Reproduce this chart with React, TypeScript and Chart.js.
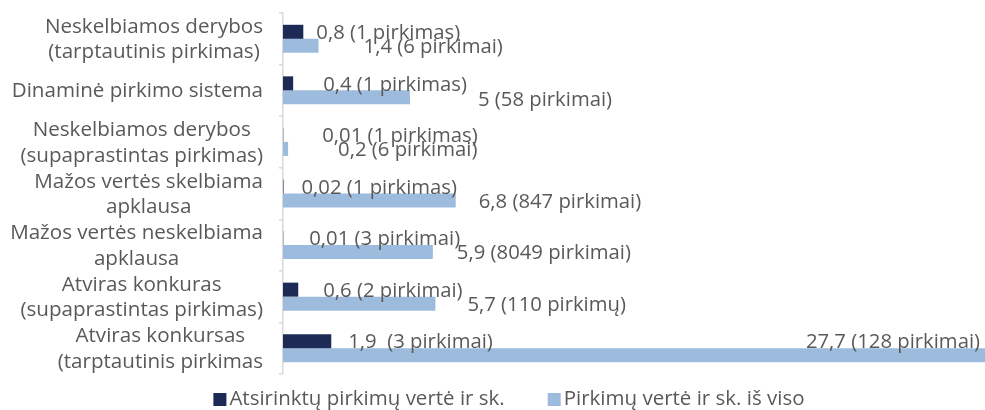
import React, { useEffect, useRef } from "react";
import { Chart, registerables } from "chart.js";

Chart.register(...registerables);

const categories: string[][] = [
  ["Neskelbiamos derybos", "(tarptautinis pirkimas)"],
  ["Dinaminė pirkimo sistema"],
  ["Neskelbiamos derybos", "(supaprastintas pirkimas)"],
  ["Mažos vertės skelbiama", "apklausa"],
  ["Mažos vertės neskelbiama", "apklausa"],
  ["Atviras konkuras", "(supaprastintas pirkimas)"],
  ["Atviras konkursas", "(tarptautinis pirkimas"],
];

const seriesNames = ["Atsirinktų pirkimų vertė ir sk.", "Pirkimų vertė ir sk. iš viso"];

const selectedValues = [0.8, 0.4, 0.01, 0.02, 0.01, 0.6, 1.9];
const totalValues = [1.4, 5, 0.2, 6.8, 5.9, 6.0, 27.7];

const selectedLabels = [
  "0,8 (1 pirkimas)",
  "0,4 (1 pirkimas)",
  "0,01 (1 pirkimas)",
  "0,02 (1 pirkimas)",
  "0,01 (3 pirkimai)",
  "0,6 (2 pirkimai)",
  "1,9  (3 pirkimai)",
];
const totalLabels = [
  "1,4 (6 pirkimai)",
  "5 (58 pirkimai)",
  "0,2 (6 pirkimai)",
  "6,8 (847 pirkimai)",
  "5,9 (8049 pirkimai)",
  "5,7 (110 pirkimų)",
  "27,7 (128 pirkimai)",
];

// label placement nudges (px)
const selectedLabelDx = [13, 30, 39, 18, 26, 25, 17];
const totalLabelDx = [45, 68, 50, 23, 24, 32, -5];
const totalLabelDy = [0, 1, 0, 0, 0, 0, -14];
const totalLabelAlign = ["left", "left", "left", "left", "left", "left", "right"];

const NAVY = "#1c2a55";
const LIGHT = "#9dbbdc";
const TEXT = "#595959";
const FONT = '"Open Sans", "Noto Sans", sans-serif';
const CAT_SIZE = 20.6;
const VAL_SIZE = 20.3;
const LEG_SIZE = 20.5;

const categoryLabelPlugin = {
  id: "categoryLabels",
  afterDraw(chart: any) {
    const ctx = chart.ctx;
    const yScale = chart.scales.y;
    const right = chart.chartArea.left - 20;
    const lh = 25.5;
    ctx.save();
    ctx.font = `${CAT_SIZE}px ${FONT}`;
    ctx.fillStyle = TEXT;
    ctx.textAlign = "center";
    ctx.textBaseline = "middle";
    categories.forEach((lines, i) => {
      const yc = yScale.getPixelForValue(i) + 1;
      const w = Math.max(...lines.map((l) => ctx.measureText(l).width));
      const cx = right - w / 2;
      lines.forEach((line, j) => {
        ctx.fillText(line, cx, yc + (j - (lines.length - 1) / 2) * lh);
      });
    });
    ctx.restore();
  },
};

const valueLabelPlugin = {
  id: "valueLabels",
  afterDatasetsDraw(chart: any) {
    const ctx = chart.ctx;
    const area = chart.chartArea;
    ctx.save();
    ctx.font = `${VAL_SIZE}px ${FONT}`;
    ctx.fillStyle = TEXT;
    ctx.textBaseline = "middle";
    const m0 = chart.getDatasetMeta(0);
    m0.data.forEach((el: any, i: number) => {
      const x = Math.min(el.x, area.right);
      ctx.textAlign = "left";
      ctx.fillText(selectedLabels[i], x + selectedLabelDx[i], el.y + 1.5);
    });
    const m1 = chart.getDatasetMeta(1);
    m1.data.forEach((el: any, i: number) => {
      const x = Math.min(el.x, area.right);
      ctx.textAlign = totalLabelAlign[i] as CanvasTextAlign;
      ctx.fillText(totalLabels[i], x + totalLabelDx[i], el.y + 1.5 + totalLabelDy[i]);
    });
    ctx.restore();
  },
};

const legendPlugin = {
  id: "customLegend",
  afterDraw(chart: any) {
    const ctx = chart.ctx;
    const box = 13;
    const gapText = 3;
    const gapItem = 43;
    const centerX = 509;
    const yMid = 399.5;
    ctx.save();
    ctx.font = `${LEG_SIZE}px ${FONT}`;
    const items = chart.data.datasets.map((ds: any) => ({
      text: ds.label,
      color: ds.backgroundColor,
      w: ctx.measureText(ds.label).width,
    }));
    const total =
      items.reduce((s: number, it: any) => s + box + gapText + it.w, 0) + gapItem * (items.length - 1);
    let x = centerX - total / 2;
    ctx.textBaseline = "middle";
    ctx.textAlign = "left";
    items.forEach((it: any) => {
      ctx.fillStyle = it.color;
      ctx.fillRect(x, yMid - box / 2, box, box);
      ctx.fillStyle = TEXT;
      ctx.fillText(it.text, x + box + gapText, yMid);
      x += box + gapText + it.w + gapItem;
    });
    ctx.restore();
  },
};

export default function App() {
  const canvasRef = useRef<HTMLCanvasElement | null>(null);

  useEffect(() => {
    if (!canvasRef.current) return;
    const chart = new Chart(canvasRef.current, {
      type: "bar",
      data: {
        labels: categories.map((c) => c.join(" ")),
        datasets: [
          {
            label: seriesNames[0],
            data: selectedValues,
            backgroundColor: NAVY,
            barPercentage: 1,
            categoryPercentage: 0.543,
          },
          {
            label: seriesNames[1],
            data: totalValues,
            backgroundColor: LIGHT,
            barPercentage: 1,
            categoryPercentage: 0.543,
          },
        ],
      },
      options: {
        indexAxis: "y",
        animation: false,
        responsive: true,
        maintainAspectRatio: false,
        layout: { padding: { top: 13, bottom: 36, left: 0, right: 0 } },
        plugins: {
          legend: { display: false },
          tooltip: { enabled: false },
        },
        scales: {
          x: {
            display: false,
            min: 0,
            max: 27.64,
          },
          y: {
            afterFit(scale: any) {
              scale.width = 283;
            },
            ticks: { display: false },
            grid: {
              display: true,
              drawOnChartArea: false,
              drawTicks: true,
              tickLength: 4,
              color: "#d9d9d9",
              lineWidth: 1.5,
            },
            border: { display: true, color: "#d9d9d9", width: 1.5 },
          },
        },
      },
      plugins: [categoryLabelPlugin, valueLabelPlugin, legendPlugin],
    });
    return () => chart.destroy();
  }, []);

  return (
    <div style={{ position: "absolute", left: 0, top: 0, width: 985, height: 410 }}>
      <canvas ref={canvasRef} />
    </div>
  );
}
